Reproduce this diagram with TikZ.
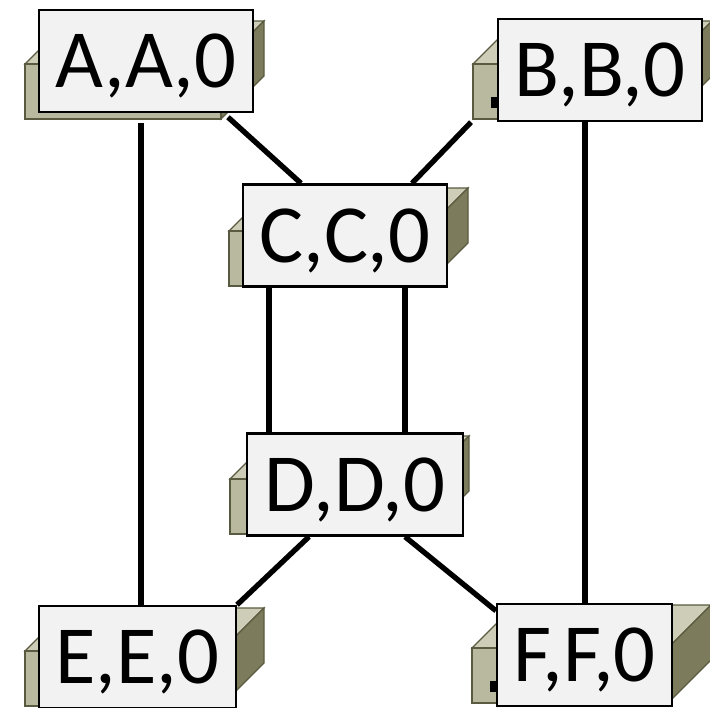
\documentclass[tikz,border=0pt]{standalone}
\usepackage{fontspec}
\setmainfont{Carlito}
\definecolor{boxfront}{HTML}{B9B9A0}
\definecolor{boxtop}{HTML}{CDCDB8}
\definecolor{boxside}{HTML}{7C7C5C}
\definecolor{boxedge}{HTML}{5A5A40}
\definecolor{labelfill}{HTML}{F2F2F2}
\tikzset{
  hostlabel/.style={fill=labelfill,draw=black,line width=1.8pt,minimum height=76.5pt,inner sep=0pt,text height=50pt,text depth=10pt,font=\fontsize{62}{62}\selectfont},
  hostlink/.style={line width=4pt,black},
  hostbox/.pic={
    \filldraw[fill=boxtop,draw=boxedge,line width=.9pt] (0,0) -- (43,-43) -- (239,-43) -- (196,0) -- cycle;
    \filldraw[fill=boxside,draw=boxedge,line width=.9pt] (196,0) -- (239,-43) -- (239,12) -- (196,55) -- cycle;
    \filldraw[fill=boxfront,draw=boxedge,line width=.9pt] (0,0) rectangle (196,55);
  }
}
\begin{document}
\begin{tikzpicture}[x=.75pt,y=-.75pt]
  \useasboundingbox (0,0) rectangle (710,707);
  \draw
    (25,64) pic {hostbox}
    (473,64) pic {hostbox}
    (229,231) pic {hostbox}
    (230,479) pic {hostbox}
    (25,651) pic {hostbox}
    (472,648) pic {hostbox};
  \fill[black] (491,97) rectangle (499,108);
  \fill[black] (490,681) rectangle (498,692);
  \draw
    (146,61) node[hostlabel,minimum width=160.5pt] (A){A,A,0}
    (600,70) node[hostlabel,minimum width=153pt] (B){B,B,0}
    (345,235.5) node[hostlabel,minimum width=153pt] (C){C,C,0}
    (355,484.5) node[hostlabel,minimum width=162pt] (D){D,D,0}
    (137.5,657) node[hostlabel,minimum width=147.5pt] (E){E,E,0}
    (584.5,655) node[hostlabel,minimum width=131pt] (F){F,F,0};
  \begin{scope}[hostlink]
    \draw ([shift={(-5,10)}]A.south) -- ([xshift=3.5*.75pt]E.north);
    \draw ([shift={(-15,0)}]B.south) -- ([xshift=.5*.75pt]F.north);
    \draw ([shift={(82,4)}]A.south) -- ([xshift=-44*.75pt]C.north);
    \draw ([shift={(-129,0)}]B.south) -- ([xshift=67*.75pt]C.north);
    \draw ([xshift=-76*.75pt]C.south) -- ([xshift=-86*.75pt]D.north);
    \draw ([xshift=60*.75pt]C.south) -- ([xshift=50*.75pt]D.north);
    \draw ([xshift=-46*.75pt]D.south) -- (E.north east);
    \draw ([xshift=50*.75pt]D.south) -- ([yshift=-8*.75pt]F.north west);
  \end{scope}
\end{tikzpicture}
\end{document}
